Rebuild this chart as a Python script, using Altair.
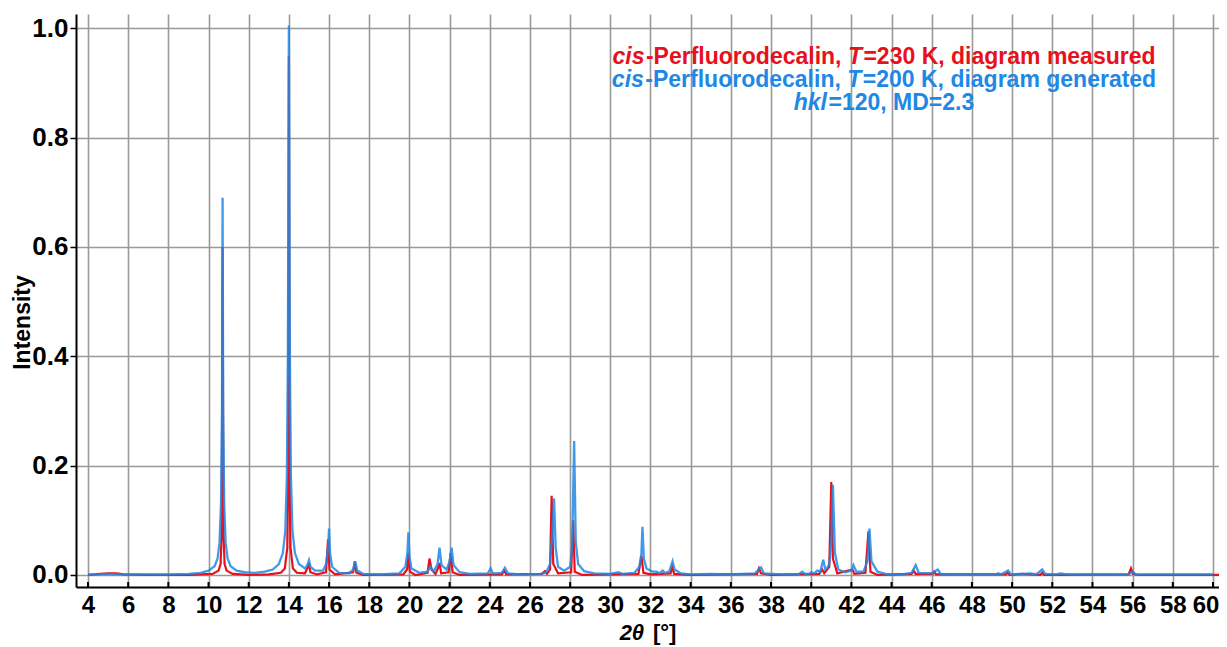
import altair as alt
import pandas as pd

# ---------------- data ----------------
red_x = [4.0, 4.6, 5.0, 5.4, 5.8, 7.0, 9.0, 10.2, 10.5, 10.6, 10.66, 10.7, 10.74, 10.8, 10.9, 11.2,
         12.0, 13.0, 13.6, 13.8, 13.92, 13.97, 14.0, 14.03, 14.08, 14.2, 14.4, 14.8, 14.95, 15.0, 15.07,
         15.4, 15.85, 15.95, 16.02, 16.3, 17.2, 17.28, 17.36, 17.7, 19.7, 19.88, 19.95, 20.02, 20.3,
         20.9, 21.0, 21.1, 21.3, 21.45, 21.5, 21.58, 21.95, 22.05, 22.15, 22.5, 24.6, 24.72, 24.82,
         26.6, 26.75, 26.85, 27.0, 27.08, 27.16, 27.4, 28.05, 28.15, 28.23, 28.6, 31.4, 31.55, 31.65,
         32.0, 33.0, 33.08, 33.18, 34.0, 37.3, 37.4, 37.5, 38.0, 40.4, 40.55, 40.65, 40.9, 41.0, 41.08,
         41.3, 42.05, 42.15, 42.7, 42.85, 42.95, 43.3, 45.0, 45.1, 45.2, 46.05, 46.12, 46.22, 49.7,
         49.78, 49.88, 50.5, 51.4, 51.5, 51.6, 55.8, 55.92, 56.02, 56.3, 60.3]
red_y = [0.0, 0.002, 0.003, 0.003, 0.001, 0.0, 0.0, 0.002, 0.008, 0.02, 0.08, 0.6, 0.08, 0.02, 0.008, 0.002,
         0.0, 0.001, 0.004, 0.012, 0.05, 0.2, 0.95, 0.2, 0.05, 0.012, 0.004, 0.003, 0.015, 0.022, 0.005,
         0.001, 0.005, 0.065, 0.01, 0.001, 0.005, 0.025, 0.004, 0.0, 0.001, 0.01, 0.04, 0.006, 0.0,
         0.004, 0.03, 0.01, 0.002, 0.015, 0.022, 0.003, 0.005, 0.04, 0.005, 0.0, 0.001, 0.008, 0.001,
         0.002, 0.007, 0.002, 0.01, 0.145, 0.02, 0.003, 0.005, 0.1, 0.006, 0.0, 0.002, 0.035, 0.004,
         0.001, 0.003, 0.015, 0.002, 0.0, 0.002, 0.012, 0.003, 0.0, 0.002, 0.01, 0.003, 0.015, 0.17, 0.03,
         0.003, 0.01, 0.002, 0.004, 0.08, 0.006, 0.0, 0.002, 0.008, 0.002, 0.002, 0.006, 0.001, 0.001,
         0.005, 0.0, 0.002, 0.0, 0.004, 0.0, 0.001, 0.012, 0.002, 0.0, 0.0]

blue_x = [4.0, 4.5, 5.0, 5.5, 6.0, 7.0, 8.0, 9.0, 9.6, 10.0, 10.3, 10.45, 10.55, 10.62, 10.67, 10.7,
          10.73, 10.78, 10.85, 10.95, 11.1, 11.4, 11.8, 12.3, 12.8, 13.2, 13.5, 13.7, 13.82, 13.9, 13.95,
          14.0, 14.05, 14.1, 14.18, 14.3, 14.5, 14.8, 14.92, 15.0, 15.08, 15.3, 15.7, 15.85, 15.95, 16.0,
          16.05, 16.15, 16.5, 17.0, 17.2, 17.3, 17.4, 17.7, 18.5, 19.5, 19.8, 19.9, 19.95, 20.0, 20.1,
          20.5, 20.9, 21.05, 21.2, 21.4, 21.5, 21.6, 21.85, 22.0, 22.1, 22.2, 22.5, 23.0, 23.9, 24.05,
          24.15, 24.6, 24.75, 24.9, 25.5, 26.5, 26.8, 27.0, 27.1, 27.2, 27.28, 27.4, 27.7, 28.0, 28.1,
          28.2, 28.28, 28.4, 28.7, 29.2, 30.0, 30.4, 30.6, 31.2, 31.45, 31.55, 31.6, 31.67, 31.8, 32.1,
          32.3, 32.45, 32.6, 32.75, 32.95, 33.1, 33.2, 33.5, 34.0, 35.0, 36.0, 37.2, 37.5, 37.65, 38.5,
          39.4, 39.55, 39.7, 39.9, 40.0, 40.15, 40.3, 40.45, 40.6, 40.7, 40.8, 40.9, 41.0, 41.08, 41.18,
          41.35, 41.7, 42.0, 42.1, 42.25, 42.6, 42.8, 42.9, 43.0, 43.3, 43.7, 44.5, 45.0, 45.2, 45.35,
          46.0, 46.3, 46.45, 47.0, 49.2, 49.3, 49.45, 49.8, 49.95, 50.3, 50.6, 50.9, 51.2, 51.5, 51.65,
          52.2, 52.4, 52.6, 52.9, 55.8, 56.0, 56.15, 58.0, 60.0]
blue_y = [0.001, 0.001, 0.002, 0.001, 0.001, 0.001, 0.001, 0.002, 0.004, 0.008, 0.016, 0.03, 0.06, 0.13, 0.3, 0.69,
          0.3, 0.13, 0.06, 0.03, 0.016, 0.008, 0.005, 0.004, 0.006, 0.01, 0.02, 0.04, 0.08, 0.18, 0.4,
          1.005, 0.4, 0.18, 0.08, 0.04, 0.02, 0.012, 0.018, 0.027, 0.015, 0.008, 0.008, 0.02, 0.05, 0.085,
          0.04, 0.015, 0.004, 0.003, 0.01, 0.025, 0.008, 0.002, 0.001, 0.003, 0.015, 0.04, 0.078, 0.035, 0.012,
          0.004, 0.006, 0.015, 0.006, 0.02, 0.05, 0.018, 0.01, 0.025, 0.05, 0.018, 0.005, 0.002, 0.003, 0.012,
          0.003, 0.004, 0.013, 0.003, 0.001, 0.002, 0.004, 0.02, 0.07, 0.14, 0.05, 0.015, 0.008, 0.015, 0.05,
          0.245, 0.06, 0.02, 0.007, 0.003, 0.002, 0.005, 0.002, 0.004, 0.015, 0.04, 0.088, 0.03, 0.012, 0.006,
          0.006, 0.003, 0.008, 0.003, 0.008, 0.025, 0.01, 0.003, 0.001, 0.002, 0.001, 0.003, 0.014, 0.003, 0.001,
          0.002, 0.006, 0.002, 0.002, 0.005, 0.003, 0.008, 0.006, 0.028, 0.01, 0.013, 0.02, 0.06, 0.165, 0.04,
          0.01, 0.005, 0.008, 0.018, 0.006, 0.006, 0.025, 0.085, 0.025, 0.006, 0.002, 0.001, 0.004, 0.018, 0.004,
          0.003, 0.01, 0.002, 0.001, 0.001, 0.003, 0.001, 0.008, 0.001, 0.002, 0.002, 0.003, 0.001, 0.01, 0.002,
          0.001, 0.003, 0.002, 0.001, 0.001, 0.006, 0.001, 0.001, 0.001]

x_grid_values = list(range(4, 61))
x_label_values = list(range(4, 61, 2))
y_values = [0.0, 0.2, 0.4, 0.6, 0.8, 1.0]

RED = "#e8101a"
BLUE = "#1e88e5"

legend_lines = [
    ([("cis", True), ("-Perfluorodecalin, ", False), ("T", True), ("=230 K, diagram measured", False)], RED),
    ([("cis", True), ("-Perfluorodecalin, ", False), ("T", True), ("=200 K, diagram generated", False)], BLUE),
    ([("hkl", True), ("=120, MD=2.3", False)], BLUE),
]
x_title_pieces = [("2θ", True), (" [°]", False)]

# ---------------- layout helpers ----------------
W, H = 1143, 573
LEFT = 68
FONT = "Liberation Sans"
LEG_SIZE = 23
TITLE_SIZE = 22
YTICK_SIZE = 26
XTICK_SIZE = 24
ITALIC_GAP = 1.5

_adv = {' ': 278, ',': 278, '-': 333, '.': 278, '=': 584, '[': 333, ']': 333, '°': 400, 'θ': 611,
        'K': 722, 'M': 833, 'D': 722, 'P': 667, 'T': 611,
        'a': 556, 'c': 556, 'd': 611, 'e': 556, 'f': 333, 'g': 611, 'h': 611, 'i': 278, 'k': 556,
        'l': 278, 'm': 889, 'n': 611, 'o': 611, 'r': 389, 's': 556, 't': 333, 'u': 611}


def text_width(s, size):
    return sum(556 if ch.isdigit() else _adv.get(ch, 556) for ch in s) * size / 1000.0


def piece_width(p, ital, size):
    return text_width(p, size) + (ITALIC_GAP if ital else 0)


def place(pieces, cx, cy, size, color):
    rows = []
    total = sum(piece_width(p, it, size) for p, it in pieces)
    x0 = cx - total / 2
    for p, ital in pieces:
        lead = len(p) - len(p.lstrip(" "))
        x_draw = x0 + text_width(" " * lead, size)
        rows.append({"txt": p.strip(" "), "px": x_draw, "py": cy, "col": color, "ital": ital, "size": size})
        x0 += piece_width(p, ital, size)
    return rows


ORIGIN_X = 8 + LEFT
rows = []
for i, (pieces, col) in enumerate(legend_lines):
    rows += place(pieces, 884 - ORIGIN_X, 43 + 23 * i, LEG_SIZE, col)
rows += place(x_title_pieces, 648 - ORIGIN_X, 619, TITLE_SIZE, "#000000")
text_df = pd.DataFrame(rows)

red_df = pd.DataFrame({"x": red_x, "y": red_y})
blue_df = pd.DataFrame({"x": blue_x, "y": blue_y})

xscale = alt.Scale(domain=[3.403, 60.3], nice=False, zero=False)
yscale = alt.Scale(domain=[-0.022, 1.026], nice=False, zero=False)

xaxis = alt.Axis(values=x_grid_values, grid=True, gridColor="#999999", gridWidth=1.6,
                 labelExpr="datum.value % 2 == 0 ? datum.label : ''", ticks=False,
                 labelFont=FONT, labelFontSize=XTICK_SIZE, labelFontWeight="bold", labelColor="black",
                 labelPadding=6, domainColor="black", domainWidth=2, title=None,
                 labelFlush=8, labelFlushOffset=6)
yaxis = alt.Axis(values=y_values, grid=True, gridColor="#999999", gridWidth=1.6, format=".1f",
                 tickSize=6, tickColor="black", tickWidth=1.5, labelPadding=2,
                 labelFont=FONT, labelFontSize=YTICK_SIZE, labelFontWeight="bold", labelColor="black",
                 domainColor="black", domainWidth=2, title="Intensity", titleFont=FONT,
                 titleFontSize=23, titleFontWeight="bold", titleColor="black",
                 titleX=22 - ORIGIN_X, titleY=308, titleAngle=270, titleAlign="center",
                 titleBaseline="middle")

red_line = alt.Chart(red_df).mark_line(color=RED, strokeWidth=2.2).encode(
    x=alt.X("x:Q", scale=xscale, axis=xaxis),
    y=alt.Y("y:Q", scale=yscale, axis=yaxis),
)
blue_line = alt.Chart(blue_df).mark_line(color=BLUE, strokeWidth=2.3, opacity=0.85).encode(
    x=alt.X("x:Q", scale=xscale),
    y=alt.Y("y:Q", scale=yscale),
)

tick_df = pd.DataFrame({"t": x_label_values})
ticks = alt.Chart(tick_df).mark_rule(color="black", strokeWidth=2).encode(
    x=alt.X("t:Q", scale=xscale),
    y=alt.value(H),
    y2=alt.value(H - 5),
)

ital_txt = alt.Chart(text_df).transform_filter("datum.ital").mark_text(
    font=FONT, fontWeight="bold", fontStyle="italic", align="left", baseline="middle", fontSize=LEG_SIZE
).encode(
    x=alt.X("px:Q", scale=None), y=alt.Y("py:Q", scale=None),
    text="txt:N", color=alt.Color("col:N", scale=None), size=alt.Size("size:Q", scale=None),
)
norm_txt = alt.Chart(text_df).transform_filter("!datum.ital").mark_text(
    font=FONT, fontWeight="bold", fontStyle="normal", align="left", baseline="middle", fontSize=LEG_SIZE
).encode(
    x=alt.X("px:Q", scale=None), y=alt.Y("py:Q", scale=None),
    text="txt:N", color=alt.Color("col:N", scale=None), size=alt.Size("size:Q", scale=None),
)

chart = alt.layer(red_line, blue_line, ticks, ital_txt, norm_txt).properties(
    width=W, height=H,
    autosize=alt.AutoSizeParams(type="none"),
    padding={"left": LEFT, "top": 6, "right": 0, "bottom": 59},
    background="white",
).configure_view(stroke=None)

chart.save("out.html", embed_options={"renderer": "svg", "actions": False})
